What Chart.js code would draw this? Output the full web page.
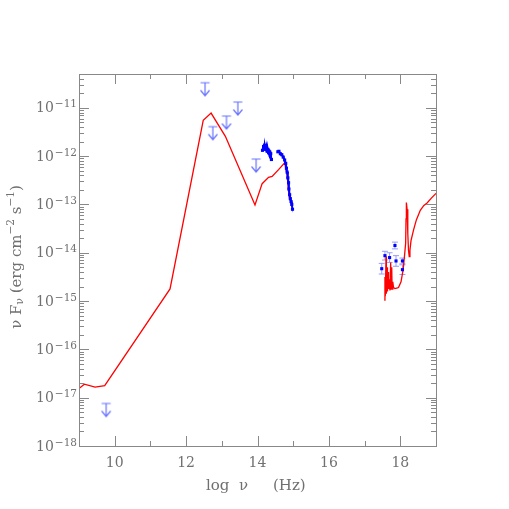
<!DOCTYPE html>
<html>
<head>
<meta charset="utf-8">
<script src="https://cdn.jsdelivr.net/npm/chart.js@4/dist/chart.umd.min.js"></script>
<style>
  html, body { margin: 0; padding: 0; background: #fff; }
  #sed { display: block; }
</style>
</head>
<body>
<canvas id="sed" width="509" height="509"></canvas>
<script>
// axis ranges and ticks (x = log nu, y = log nuFnu)
const xMin = 9, xMax = 19;
const yMin = -18, yMax = -10.3;
const xMajorTicks = [10, 12, 14, 16, 18];
const xMinorTicks = [9, 11, 13, 15, 17, 19];
const yDecades = [-18, -17, -16, -15, -14, -13, -12, -11];

// model curve, radio to optical (log values)
const modelLowX = [9.0, 9.15, 9.45, 9.72, 11.55, 12.48, 12.70, 13.10, 13.93, 14.13, 14.31, 14.41, 14.59, 14.76, 14.83, 14.87, 14.90];
const modelLowY = [-16.81, -16.72, -16.78, -16.75, -14.75, -11.26, -11.11, -11.59, -13.01, -12.57, -12.44, -12.42, -12.28, -12.14, -12.39, -12.73, -12.90];

// model curve, X-ray part
const modelHighX = [17.55, 17.57, 17.58, 17.60, 17.61, 17.63, 17.64, 17.66, 17.67, 17.69, 17.71, 17.73, 17.74, 17.76, 17.77, 17.79, 17.81, 17.85, 17.90, 17.95, 18.02, 18.08, 18.12, 18.15, 18.16, 18.17, 18.19, 18.21, 18.23, 18.25, 18.27, 18.30, 18.37, 18.45, 18.56, 18.66, 18.75, 18.87, 19.0];
const modelHighY = [-14.98, -14.50, -14.90, -14.08, -14.85, -14.30, -14.80, -14.40, -14.75, -14.55, -14.78, -14.20, -14.75, -14.30, -14.75, -14.60, -14.72, -14.74, -14.73, -14.72, -14.60, -14.35, -14.05, -13.80, -13.30, -12.96, -13.10, -13.60, -13.95, -14.08, -13.95, -13.75, -13.53, -13.32, -13.12, -13.02, -12.97, -12.87, -12.77];

// optical / near-IR photometry
const optX = [14.14, 14.17, 14.19, 14.21, 14.23, 14.25, 14.27, 14.29, 14.31, 14.33, 14.35, 14.37, 14.39,
              14.57, 14.60, 14.64, 14.68, 14.72, 14.76, 14.79, 14.81, 14.83, 14.85, 14.87, 14.88, 14.90, 14.92, 14.94, 14.96, 14.98];
const optY = [-11.88, -11.80, -11.86, -11.78, -11.84, -11.79, -11.90, -11.86, -11.93, -11.90, -11.98, -11.95, -12.07,
              -11.91, -11.90, -11.95, -11.97, -12.02, -12.08, -12.15, -12.25, -12.33, -12.45, -12.55, -12.68, -12.80, -12.88, -12.94, -13.00, -13.10];

// X-ray points with errors
const xrayX = [17.48, 17.57, 17.70, 17.85, 17.88, 18.06, 18.06];
const xrayY = [-14.33, -14.06, -14.10, -13.85, -14.17, -14.17, -14.35];
const xrayErr = [0.11, 0.09, 0.10, 0.07, 0.11, 0.06, 0.10];

// upper limits
const limX = [9.76, 12.53, 12.75, 13.13, 13.45, 13.96];
const limY = [-17.12, -10.48, -11.39, -11.17, -10.88, -12.06];

const toPoints = (xs, ys) => xs.map((x, i) => ({ x, y: ys[i] }));

const FONT = '"DejaVu Serif", "Liberation Serif", serif';
const TEXT = "#707070";
const FRAME = "#888";
const LIMIT_COLOR = "rgb(105,115,255)";
const ERR_COLOR = "rgb(150,155,255)";

function arrowMarker() {
    const c = document.createElement("canvas");
    c.width = 14; c.height = 30;
    const g = c.getContext("2d");
    g.strokeStyle = LIMIT_COLOR;
    g.lineWidth = 1.2;
    g.beginPath();
    g.moveTo(2.5, 15); g.lineTo(11.5, 15);
    g.moveTo(7, 15); g.lineTo(7, 28);
    g.moveTo(2.5, 22.5); g.lineTo(7, 28); g.lineTo(11.5, 22.5);
    g.stroke();
    return c;
}

const axesPlugin = {
    id: "sedAxes",
    beforeDatasetsDraw(chart) {
        const { ctx, scales: { x, y } } = chart;
        ctx.save();
        // error bars for X-ray points
        ctx.strokeStyle = ERR_COLOR;
        ctx.lineWidth = 1;
        xrayX.forEach((v, i) => {
            const px = x.getPixelForValue(v);
            const top = y.getPixelForValue(xrayY[i] + xrayErr[i]);
            const bot = y.getPixelForValue(xrayY[i] - xrayErr[i]);
            ctx.beginPath();
            ctx.moveTo(px, top); ctx.lineTo(px, bot);
            ctx.moveTo(px - 3, top); ctx.lineTo(px + 3, top);
            ctx.moveTo(px - 3, bot); ctx.lineTo(px + 3, bot);
            ctx.stroke();
        });
        ctx.restore();
    },
    afterDraw(chart) {
        const { ctx, chartArea: a, scales: { x, y } } = chart;
        ctx.save();
        ctx.strokeStyle = FRAME;
        ctx.lineWidth = 1;
        ctx.strokeRect(Math.round(a.left) + 0.5, Math.round(a.top) + 0.5, Math.round(a.right - a.left), Math.round(a.bottom - a.top));

        ctx.beginPath();
        const xt = (v, len) => {
            const px = Math.round(x.getPixelForValue(v)) + 0.5;
            ctx.moveTo(px, a.bottom); ctx.lineTo(px, a.bottom - len);
            ctx.moveTo(px, a.top); ctx.lineTo(px, a.top + len);
        };
        xMajorTicks.forEach(v => xt(v, 10));
        xMinorTicks.forEach(v => xt(v, 5));
        const yt = (v, len) => {
            if (v < yMin || v > yMax) return;
            const py = Math.round(y.getPixelForValue(v)) + 0.5;
            ctx.moveTo(a.left, py); ctx.lineTo(a.left + len, py);
            ctx.moveTo(a.right, py); ctx.lineTo(a.right - len, py);
        };
        yDecades.concat([-10]).forEach(d => {
            yt(d, 10);
            for (let k = 2; k <= 9; k++) yt(d + Math.log10(k), 5);
        });
        ctx.stroke();

        // tick labels
        ctx.fillStyle = TEXT;
        ctx.font = `14px ${FONT}`;
        ctx.textAlign = "center";
        ctx.textBaseline = "middle";
        xMajorTicks.forEach(v => ctx.fillText(String(v), x.getPixelForValue(v), 463));

        yDecades.forEach(d => {
            const py = y.getPixelForValue(d);
            const exp = "\u2212" + String(-d);
            ctx.font = `10.5px ${FONT}`;
            const we = ctx.measureText(exp).width;
            ctx.textAlign = "right";
            ctx.textBaseline = "alphabetic";
            ctx.fillText(exp, a.left - 2, py - 0.5);
            ctx.font = `14px ${FONT}`;
            ctx.textBaseline = "middle";
            ctx.fillText("10", a.left - 3 - we, py + 1);
        });

        // x title
        ctx.font = `15px ${FONT}`;
        ctx.textAlign = "left";
        ctx.textBaseline = "middle";
        ctx.fillText("log  \u03bd", 206, 486);
        ctx.fillText("(Hz)", 273, 486);

        // y title, rotated
        ctx.translate(17, 257);
        ctx.rotate(-Math.PI / 2);
        const parts = [
            ["\u03bd F", 15, 0], ["\u03bd", 10.5, 3.5], [" (erg cm", 15, 0], ["\u22122", 10.5, -6],
            [" s", 15, 0], ["\u22121", 10.5, -6], [")", 15, 0]
        ];
        let total = 0;
        parts.forEach(([t, s]) => { ctx.font = `${s}px ${FONT}`; total += ctx.measureText(t).width; });
        let cx = -total / 2;
        ctx.textAlign = "left";
        ctx.textBaseline = "middle";
        parts.forEach(([t, s, dy]) => {
            ctx.font = `${s}px ${FONT}`;
            ctx.fillText(t, cx, dy);
            cx += ctx.measureText(t).width;
        });
        ctx.restore();
    }
};

new Chart(document.getElementById("sed"), {
    type: "scatter",
    data: {
        datasets: [
            {
                label: "model",
                data: toPoints(modelLowX, modelLowY),
                showLine: true, borderColor: "#ff0000", borderWidth: 1.3, pointRadius: 0, fill: false, order: 3
            },
            {
                label: "model X",
                data: toPoints(modelHighX, modelHighY),
                showLine: true, borderColor: "#ff0000", borderWidth: 1.3, pointRadius: 0, fill: false, order: 3
            },
            {
                label: "optical",
                data: toPoints(optX.slice(0, 13), optY.slice(0, 13)),
                showLine: true, borderColor: "#0000ff", borderWidth: 2, pointRadius: 0.8,
                pointStyle: "rect", backgroundColor: "#0000ff", order: 2
            },
            {
                label: "optical 2",
                data: toPoints(optX.slice(13), optY.slice(13)),
                showLine: true, borderColor: "#0000ff", borderWidth: 2, pointRadius: 0.8,
                pointStyle: "rect", backgroundColor: "#0000ff", order: 2
            },
            {
                label: "X-ray",
                data: toPoints(xrayX, xrayY),
                pointStyle: "rect", pointRadius: 2.2, backgroundColor: "#0000ff", borderColor: "#0000ff", borderWidth: 0, order: 1
            },
            {
                label: "upper limits",
                data: toPoints(limX, limY),
                pointStyle: arrowMarker(), order: 1
            }
        ]
    },
    options: {
        responsive: false,
        animation: false,
        layout: { padding: { left: 79, top: 74, right: 73, bottom: 63 } },
        plugins: { legend: { display: false }, tooltip: { enabled: false } },
        scales: {
            x: { type: "linear", min: xMin, max: xMax, display: false },
            y: { type: "linear", min: yMin, max: yMax, display: false }
        }
    },
    plugins: [axesPlugin]
});
</script>
</body>
</html>
